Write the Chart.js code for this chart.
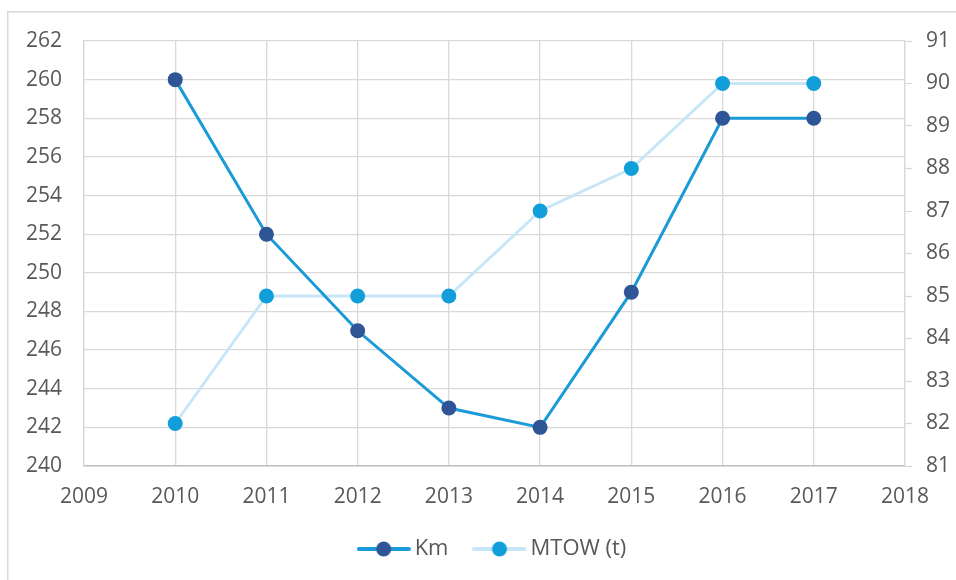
<!DOCTYPE html>
<html>
<head>
<meta charset="utf-8">
<script src="https://cdn.jsdelivr.net/npm/chart.js@4/dist/chart.umd.min.js"></script>
<style>
html,body{margin:0;padding:0;background:#fff;}
#c{display:block;}
</style>
</head>
<body>
<canvas id="c" width="956" height="580"></canvas>
<script>
const years = [2010, 2011, 2012, 2013, 2014, 2015, 2016, 2017];
const kmValues = [260, 252, 247, 243, 242, 249, 258, 258];
const mtowValues = [82, 85, 85, 85, 87, 88, 90, 90];
const seriesNames = ['Km', 'MTOW (t)'];
const xRange = [2009, 2018];
const leftRange = [240, 262];
const rightRange = [81, 91];

const KM_LINE = '#1A9AD6', KM_PT = '#2F5597';
const MT_LINE = '#C7E6F7', MT_PT = '#129FD9';
const GRID = '#D9D9D9';
const TXT = '#595959';
const FONT = "'Open Sans', 'Liberation Sans', sans-serif";

function legendIcon(lineColor, ptColor) {
  const cv = document.createElement('canvas');
  cv.width = 54; cv.height = 18;
  const g = cv.getContext('2d');
  g.strokeStyle = lineColor; g.lineWidth = 4; g.lineCap = 'round';
  g.beginPath(); g.moveTo(2, 9); g.lineTo(52, 9); g.stroke();
  g.fillStyle = ptColor;
  g.beginPath(); g.arc(27, 9, 7.5, 0, Math.PI * 2); g.fill();
  return cv;
}
const icons = [legendIcon(KM_LINE, KM_PT), legendIcon(MT_LINE, MT_PT)];

const borderPlugin = {
  id: 'outerBorder',
  beforeDraw(chart) {
    const ctx = chart.ctx;
    ctx.save();
    ctx.strokeStyle = '#D9D9D9';
    ctx.lineWidth = 1.5;
    ctx.strokeRect(7.75, 11.75, 2000, 2000);
    ctx.restore();
  }
};

const legendShift = {
  id: 'legendShift',
  afterLayout(chart) {
    if (chart.legend) { chart.legend.left += 34; }
  }
};

new Chart(document.getElementById('c'), {
  type: 'line',
  data: {
    datasets: [
      {
        label: seriesNames[0],
        data: years.map((y, i) => ({x: y, y: kmValues[i]})),
        yAxisID: 'yL',
        borderColor: KM_LINE,
        backgroundColor: KM_PT,
        pointBackgroundColor: KM_PT,
        pointBorderColor: KM_PT,
        borderWidth: 3,
        pointRadius: 7.5,
        pointBorderWidth: 0,
        tension: 0
      },
      {
        label: seriesNames[1],
        data: years.map((y, i) => ({x: y, y: mtowValues[i]})),
        yAxisID: 'yR',
        borderColor: MT_LINE,
        backgroundColor: MT_PT,
        pointBackgroundColor: MT_PT,
        pointBorderColor: MT_PT,
        borderWidth: 3,
        pointRadius: 7.5,
        pointBorderWidth: 0,
        tension: 0
      }
    ]
  },
  options: {
    responsive: false,
    animation: false,
    layout: {padding: {left: 0, right: 0, top: 41, bottom: 10}},
    plugins: {
      tooltip: {enabled: false},
      legend: {
        position: 'bottom',
        labels: {
          usePointStyle: true,
          pointStyleWidth: 40,
          boxHeight: 18,
          padding: 31,
          color: TXT,
          font: {family: FONT, size: 22},
          generateLabels(chart) {
            return chart.data.datasets.map((ds, i) => ({
              text: ds.label,
              pointStyle: icons[i],
              fontColor: TXT,
              hidden: false,
              lineWidth: 0,
              datasetIndex: i
            }));
          }
        }
      }
    },
    scales: {
      x: {
        type: 'linear',
        min: xRange[0],
        max: xRange[1],
        ticks: {stepSize: 1, color: TXT, font: {family: FONT, size: 21}, padding: 18,
          callback: v => String(v), maxRotation: 0},
        grid: {color: GRID, lineWidth: 1.3, drawTicks: false},
        border: {color: '#BFBFBF', width: 1.5},
        afterFit(s) { s.height = 41; }
      },
      yL: {
        position: 'left',
        min: leftRange[0],
        max: leftRange[1],
        ticks: {stepSize: 2, color: TXT, font: {family: FONT, size: 21}, padding: 22},
        grid: {color: GRID, lineWidth: 1.3, drawTicks: false},
        border: {color: GRID, width: 1.3},
        afterFit(s) { s.width = 84; }
      },
      yR: {
        position: 'right',
        min: rightRange[0],
        max: rightRange[1],
        ticks: {stepSize: 1, color: TXT, font: {family: FONT, size: 21}, padding: 14},
        grid: {drawOnChartArea: false, drawTicks: true, tickLength: 7, tickColor: GRID, tickWidth: 1.3},
        border: {color: GRID, width: 1.3},
        afterFit(s) { s.width = 51; }
      }
    }
  },
  plugins: [borderPlugin, legendShift]
});
</script>
</body>
</html>
